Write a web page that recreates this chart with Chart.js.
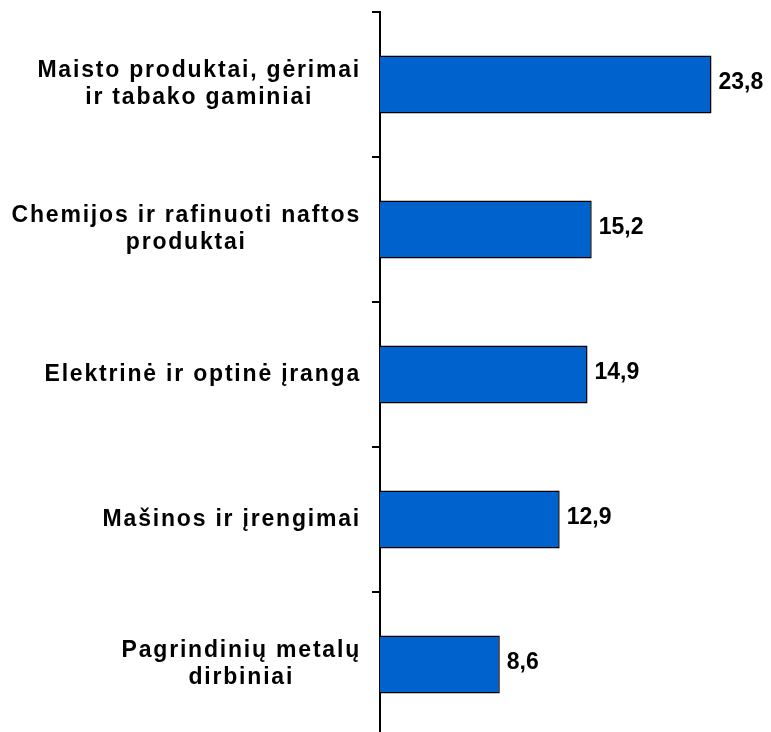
<!DOCTYPE html>
<html>
<head>
<meta charset="utf-8">
<script src="https://cdn.jsdelivr.net/npm/chart.js@4.4.1/dist/chart.umd.min.js"></script>
<style>
  html, body { margin: 0; padding: 0; background: #fff; overflow: hidden; }
  #wrap { position: relative; width: 771px; height: 737px; }
</style>
</head>
<body>
<div id="wrap"><canvas id="chart"></canvas></div>
<script>
// === Data ===
const categories = [
    ['Maisto produktai, gėrimai', 'ir tabako gaminiai'],
    ['Chemijos ir rafinuoti naftos', 'produktai'],
    ['Elektrinė ir optinė įranga'],
    ['Mašinos ir įrengimai'],
    ['Pagrindinių metalų', 'dirbiniai']
];
const values = [23.8, 15.2, 14.9, 12.9, 8.6];

const LABEL_FONT = 'bold 23px "Liberation Sans", Arial, sans-serif';
const VALUE_FONT = 'bold 23px "Liberation Sans", Arial, sans-serif';

// category labels: block right-aligned, lines centered inside the block
const categoryLabels = {
    id: 'categoryLabels',
    afterDraw(chart) {
        const ctx = chart.ctx;
        const y = chart.scales.y;
        const right = y.right - 19;
        const lineH = 27;
        ctx.save();
        ctx.font = LABEL_FONT;
        ctx.letterSpacing = '1.8px';
        ctx.fillStyle = '#000';
        ctx.textAlign = 'center';
        ctx.textBaseline = 'middle';
        categories.forEach((lines, i) => {
            const cy = y.getPixelForTick(i);
            const w = Math.max(...lines.map(l => ctx.measureText(l).width));
            const cx = right - w / 2;
            const top = cy - (lines.length - 1) * lineH / 2;
            lines.forEach((l, k) => ctx.fillText(l, cx, top + k * lineH));
        });
        ctx.restore();
    }
};

// value labels next to the bars
const valueLabels = {
    id: 'valueLabels',
    afterDatasetsDraw(chart) {
        const ctx = chart.ctx;
        const meta = chart.getDatasetMeta(0);
        ctx.save();
        ctx.font = VALUE_FONT;
        ctx.fillStyle = '#000';
        ctx.textAlign = 'left';
        ctx.textBaseline = 'middle';
        meta.data.forEach((bar, i) => {
            ctx.fillText(values[i].toFixed(1).replace('.', ','), bar.x + 7, bar.y - 2);
        });
        ctx.restore();
    }
};

const ctx = document.getElementById('chart').getContext('2d');
new Chart(ctx, {
    type: 'bar',
    data: {
        labels: categories,
        datasets: [{
            data: values,
            backgroundColor: '#0062CC',
            borderColor: '#000',
            borderWidth: 1.5,
            barPercentage: 0.8,
            categoryPercentage: 0.5
        }]
    },
    options: {
        indexAxis: 'y',
        responsive: true,
        maintainAspectRatio: false,
        animation: false,
        layout: { padding: { left: 372, top: 12, right: 1, bottom: 0 } },
        plugins: { legend: { display: false }, tooltip: { enabled: false } },
        scales: {
            x: { display: false, min: 0, max: 28 },
            y: {
                ticks: { display: false },
                grid: {
                    drawOnChartArea: false,
                    color: '#000',
                    lineWidth: 2,
                    tickLength: 8,
                    offset: true
                },
                border: { color: '#000', width: 2 }
            }
        }
    },
    plugins: [categoryLabels, valueLabels]
});
</script>
</body>
</html>
